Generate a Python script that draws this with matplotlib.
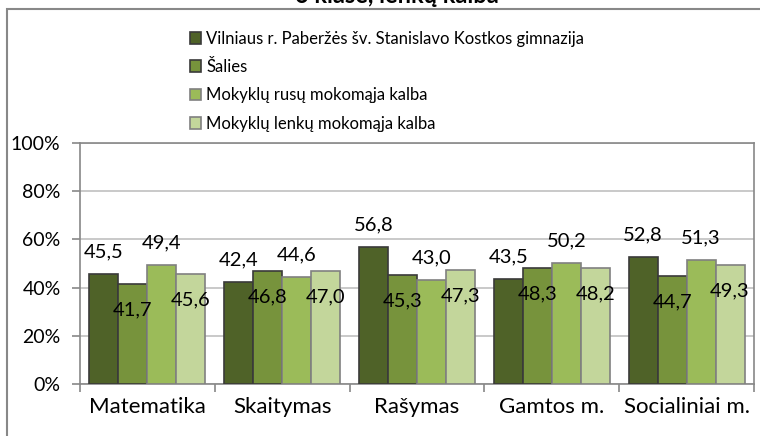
import matplotlib.pyplot as plt
from matplotlib.patches import Rectangle
from matplotlib.ticker import FuncFormatter

plt.rcParams['font.family'] = ['Lato', 'DejaVu Sans']

categories = ['Matematika', 'Skaitymas', 'Rašymas', 'Gamtos m.', 'Socialiniai m.']
series_names = ['Vilniaus r. Paberžės šv. Stanislavo Kostkos gimnazija',
                'Šalies',
                'Mokyklų rusų mokomąja kalba',
                'Mokyklų lenkų mokomąja kalba']
gimnazija = [45.5, 42.4, 56.8, 43.5, 52.8]
salies = [41.7, 46.8, 45.3, 48.3, 44.7]
rusu = [49.4, 44.6, 43.0, 50.2, 51.3]
lenku = [45.6, 47.0, 47.3, 48.2, 49.3]
values = [gimnazija, salies, rusu, lenku]

colors = ['#4F6228', '#77933C', '#9BBB59', '#C3D69B']
edges = ['#3a3a3a', '#3a3a3a', '#808080', '#808080']

fig = plt.figure(figsize=(7.6, 4.36), dpi=100)
ax = fig.add_axes([80 / 760, 1 - 384 / 436, 674 / 760, 241 / 436])

w = 0.215
x = list(range(len(categories)))
for i, vals in enumerate(values):
    pos = [xx + (i - 1.5) * w for xx in x]
    bars = ax.bar(pos, vals, width=w, color=colors[i], edgecolor=edges[i],
                  linewidth=1.2, label=series_names[i], zorder=3)
    for b, v in zip(bars, vals):
        txt = f'{v:.1f}'.replace('.', ',')
        dy = 22 if i % 2 == 0 else -26
        ax.annotate(txt, (b.get_x() + b.get_width() / 2, v), xytext=(0, dy),
                    textcoords='offset pixels', ha='center', va='center',
                    fontsize=14.5, zorder=5)

ax.set_xlim(-0.5, len(categories) - 0.5)
ax.set_ylim(0, 100)
ax.set_yticks([0, 20, 40, 60, 80, 100])
ax.yaxis.set_major_formatter(FuncFormatter(lambda v, p: f'{int(v)}%'))
ax.grid(axis='y', color='#c0c0c0', linewidth=1.2, zorder=0)
ax.set_xticks(x)
ax.set_xticklabels(categories, fontsize=16)
ax.set_xticks([k + 0.5 for k in range(-1, len(categories))], minor=True)
ax.tick_params(axis='x', which='major', length=0, pad=9)
ax.tick_params(axis='x', which='minor', length=6, color='#888888', width=1.2)
ax.tick_params(axis='y', length=6, color='#888888', width=1.2, labelsize=14, pad=8)
for s in ax.spines.values():
    s.set_color('#888888')
    s.set_linewidth(1.2)

fig.legend(loc='upper left', bbox_to_anchor=(183 / 760, 1 - 24 / 436),
           frameon=False, fontsize=12, handlelength=0.7, handleheight=0.7,
           handletextpad=0.3, labelspacing=0.74, borderaxespad=0)

fig.text(397 / 760, 1 - 3 / 436, '6 klasė, lenkų kalba', ha='center',
         va='baseline', fontsize=17, fontweight='bold')

fig.patches.append(Rectangle((7 / 760, -0.05), 1.1, 1 - 9 / 436 + 0.05,
                             transform=fig.transFigure, fill=False,
                             edgecolor='#888888', linewidth=1.5))

fig.savefig('out.png', dpi=100)
